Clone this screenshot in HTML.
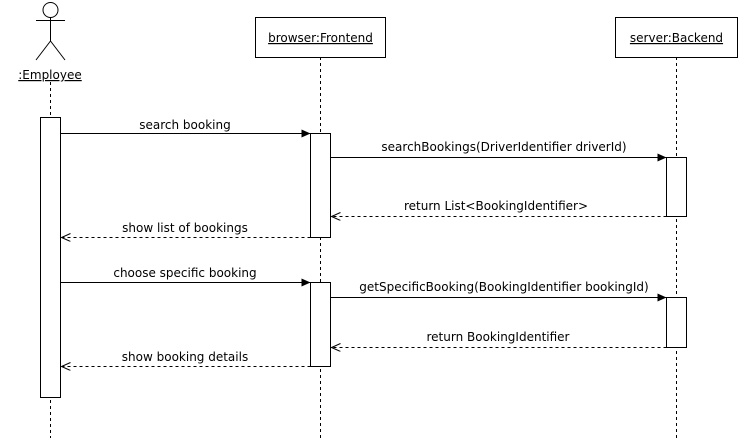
<!DOCTYPE html>
<html><head><meta charset="utf-8"><style>
html,body{margin:0;padding:0;background:#fff;}
svg{display:block;}
text{font-family:"DejaVu Sans","Liberation Sans",sans-serif;font-size:12px;fill:#000;}
</style></head><body>
<svg width="738" height="438" viewBox="0 0 738 438" xmlns="http://www.w3.org/2000/svg">
<defs>
<marker id="f" markerWidth="10" markerHeight="10" refX="9" refY="4" orient="auto" markerUnits="userSpaceOnUse"><path d="M0,0 L9,4 L0,8 Z" fill="#000"/></marker>
<marker id="o" markerWidth="12" markerHeight="10" refX="10" refY="4" orient="auto" markerUnits="userSpaceOnUse"><path d="M1,0 L10,4 L1,8" fill="none" stroke="#000"/></marker>
</defs>
<g stroke="#000" fill="none" stroke-width="1">
<circle cx="50.5" cy="10" r="7.5" fill="#fff"/>
<line x1="50.5" y1="17.5" x2="50.5" y2="41"/>
<line x1="36" y1="20.5" x2="65" y2="20.5"/>
<line x1="50.5" y1="41" x2="36" y2="60"/>
<line x1="50.5" y1="41" x2="65" y2="60"/>
<line x1="50.5" y1="82" x2="50.5" y2="438" stroke-dasharray="3,3"/>
<line x1="320.5" y1="57" x2="320.5" y2="438" stroke-dasharray="3,3"/>
<line x1="676.5" y1="57" x2="676.5" y2="438" stroke-dasharray="3,3"/>
<rect x="255.5" y="17.5" width="130" height="40" fill="#fff"/>
<rect x="615.5" y="17.5" width="122" height="40" fill="#fff"/>
<rect x="40.5" y="117.5" width="20" height="280" fill="#fff"/>
<rect x="310.5" y="133.5" width="20" height="104" fill="#fff"/>
<rect x="666.5" y="157.5" width="20" height="59" fill="#fff"/>
<rect x="310.5" y="282.5" width="20" height="84" fill="#fff"/>
<rect x="666.5" y="297.5" width="20" height="50" fill="#fff"/>
<line x1="60.5" y1="133.5" x2="310.5" y2="133.5" marker-end="url(#f)"/>
<line x1="330.5" y1="157.5" x2="666.5" y2="157.5" marker-end="url(#f)"/>
<line x1="666.5" y1="216.5" x2="331.5" y2="216.5" stroke-dasharray="3,3" marker-end="url(#o)"/>
<line x1="310.5" y1="237.5" x2="61.5" y2="237.5" stroke-dasharray="3,3" marker-end="url(#o)"/>
<line x1="60.5" y1="282.5" x2="310.5" y2="282.5" marker-end="url(#f)"/>
<line x1="330.5" y1="297.5" x2="666.5" y2="297.5" marker-end="url(#f)"/>
<line x1="666.5" y1="347.5" x2="331.5" y2="347.5" stroke-dasharray="3,3" marker-end="url(#o)"/>
<line x1="310.5" y1="366.5" x2="61.5" y2="366.5" stroke-dasharray="3,3" marker-end="url(#o)"/>
</g>
<g text-anchor="middle">
<text x="50" y="79" text-decoration="underline">:Employee</text>
<text x="320.5" y="42" text-decoration="underline">browser:Frontend</text>
<text x="676.5" y="42" text-decoration="underline">server:Backend</text>
<text x="185" y="129">search booking</text>
<text x="504" y="151">searchBookings(DriverIdentifier driverId)</text>
<text x="496" y="210">return List&lt;BookingIdentifier&gt;</text>
<text x="185" y="232">show list of bookings</text>
<text x="185" y="277">choose specific booking</text>
<text x="504" y="291">getSpecificBooking(BookingIdentifier bookingId)</text>
<text x="498" y="341">return BookingIdentifier</text>
<text x="185" y="361">show booking details</text>
</g>
</svg>
</body></html>
